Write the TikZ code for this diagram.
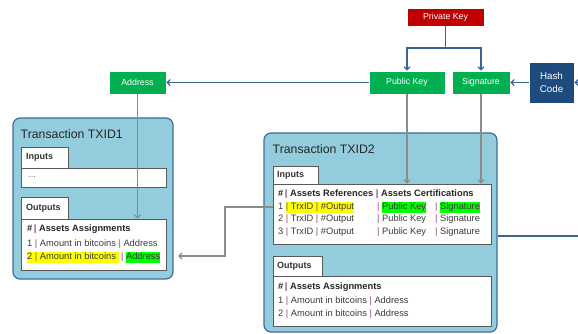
\documentclass[tikz,border=0pt]{standalone}
\usepackage{fontspec}
\setmainfont{Liberation Sans}
\usetikzlibrary{arrows.meta,calc}
\definecolor{pkred}{HTML}{C00000}
\definecolor{kgreen}{HTML}{00B050}
\definecolor{hblue}{HTML}{1F4A7D}
\definecolor{panelc}{HTML}{93CDDD}
\definecolor{pborder}{HTML}{3F6D97}
\definecolor{lblue}{HTML}{3C6495}
\definecolor{lgray}{HTML}{8C8C8C}
\definecolor{txtc}{HTML}{3A3A3A}
\definecolor{pipec}{HTML}{8E4F70}
\definecolor{hlyel}{HTML}{FFFF00}
\definecolor{hlgrn}{HTML}{00FF00}
\definecolor{boxb}{HTML}{595959}
\newcommand{\pp}{\textcolor{pipec}{|}}
\newcommand{\hly}[1]{{\setlength{\fboxsep}{0pt}\colorbox{hlyel}{\strut #1}}}
\newcommand{\hlg}[1]{{\setlength{\fboxsep}{0pt}\colorbox{hlgrn}{\strut #1}}}
\begin{document}
\begin{tikzpicture}[x=1pt,y=-1pt,
  keybox/.style={draw=white, line width=0.6pt, text=white, font=\fontsize{8.8}{10}\selectfont, inner sep=0pt, align=center},
  panelbox/.style={draw=pborder, line width=1.2pt, fill=panelc, rounded corners=7pt, inner sep=0pt},
  whitebox/.style={draw=boxb, line width=0.8pt, fill=white, inner sep=0pt},
  tabrect/.style={draw=boxb, line width=0.8pt, fill=white},
  tabbox/.style={inner sep=0pt, font=\bfseries\fontsize{9}{10}\selectfont, text=black!80},
  rowtxt/.style={anchor=west, inner sep=0pt, text=txtc, font=\fontsize{9.3}{11}\selectfont},
  hdrtxt/.style={anchor=west, inner sep=0pt, text=black!85, font=\bfseries\fontsize{9.3}{11}\selectfont},
  titletxt/.style={anchor=west, inner sep=0pt, text=black!85, font=\fontsize{12.3}{14}\selectfont},
  bluearrow/.style={draw=lblue, line width=1.3pt, -{Straight Barb[length=3pt,width=6pt]}},
  blueline/.style={draw=lblue, line width=1.3pt},
  grayarrow/.style={draw=lgray, line width=1.3pt, -{Straight Barb[length=3pt,width=6pt]}},
  grayline/.style={draw=lgray, line width=1.3pt}
]
\useasboundingbox (0,0) rectangle (578,334);

% key boxes
\node[keybox, fill=pkred, minimum width=77pt, minimum height=18pt] (priv) at (445.5,17) {Private Key};
\node[keybox, fill=kgreen, minimum width=76pt, minimum height=23pt] (pub) at (407,82.5) {Public Key};
\node[keybox, fill=kgreen, minimum width=58pt, minimum height=23pt] (sig) at (481,82.5) {Signature};
\node[keybox, fill=hblue, minimum width=45pt, minimum height=41pt, font=\fontsize{9.8}{11}\selectfont] (hash) at (551.5,82.5) {Hash\\[2pt]Code};
\node[keybox, fill=kgreen, minimum width=57pt, minimum height=23pt] (addr) at (137.5,82.5) {Address};

% panels
\node[panelbox, minimum width=160pt, minimum height=161pt] (tx1) at (93,198.5) {};
\node[panelbox, minimum width=233pt, minimum height=199pt] (tx2) at (380.5,232.5) {};
\node[titletxt] (t1) at (20.5,134) {Transaction TXID1};
\node[titletxt] (t2) at (272.5,149) {Transaction TXID2};

% TXID1 inputs
\draw[tabrect] (21,147) rectangle (68,168);
\node[tabbox, anchor=west] (in1tab) at (26,157.5) {Inputs};
\node[whitebox, minimum width=145pt, minimum height=19pt] (in1) at (93.5,177.5) {};
\node[rowtxt, text=black!55] (dots) at (28,177) {...};

% TXID1 outputs
\draw[tabrect] (21,197) rectangle (68,219);
\node[tabbox, anchor=west] (out1tab) at (26,208) {Outputs};
\node[whitebox, minimum width=145pt, minimum height=51pt] (out1) at (93.5,244.5) {};
\node[hdrtxt] (h1) at (27,229) {\#\,\pp\ Assets Assignments};
\node[rowtxt] (r11) at (27,244) {1 \pp\ Amount in bitcoins \pp\ Address};
\node[rowtxt] (r12) at (27,257.5) {\hly{2 \pp\ Amount in bitcoins }\ \pp\ \hlg{Address}};

% TXID2 inputs
\draw[tabrect] (273,166) rectangle (318,184);
\node[tabbox, anchor=west] (in2tab) at (277,175) {Inputs};
\node[whitebox, minimum width=218pt, minimum height=60pt] (in2) at (382,214) {};
\node[hdrtxt] (h2) at (278,194) {\#\,\pp\ Assets References \pp\ Assets Certifications};
\node[rowtxt] (r21) at (278,207) {1 \hly{\pp\ TrxID \pp\ \#Output}};
\node[rowtxt] (r22) at (278,219.5) {2 \pp\ TrxID \pp\ \#Output};
\node[rowtxt] (r23) at (278,232) {3 \pp\ TrxID \pp\ \#Output};
\node[rowtxt] (c21) at (377,207) {\pp\ \hlg{Public Key}};
\node[rowtxt] (c22) at (377,219.5) {\pp\ Public Key};
\node[rowtxt] (c23) at (377,232) {\pp\ Public Key};
\node[rowtxt] (d21) at (435,207) {\pp\ \hlg{Signature}};
\node[rowtxt] (d22) at (435,219.5) {\pp\ Signature};
\node[rowtxt] (d23) at (435,232) {\pp\ Signature};

% TXID2 outputs
\draw[tabrect] (273,256) rectangle (322,276);
\node[tabbox, anchor=west] (out2tab) at (277,266) {Outputs};
\node[whitebox, minimum width=218pt, minimum height=50pt] (out2) at (382,301) {};
\node[hdrtxt] (h3) at (278,287) {\#\,\pp\ Assets Assignments};
\node[rowtxt] (r31) at (278,301) {1 \pp\ Amount in bitcoins \pp\ Address};
\node[rowtxt] (r32) at (278,314) {2 \pp\ Amount in bitcoins \pp\ Address};

% connectors
\coordinate (split) at (445.5,48);
\draw[blueline] (priv.south) -- (split);
\draw[bluearrow] (split) -| (pub.north);
\draw[bluearrow] (split) -| (sig.north);
\draw[bluearrow] (pub.west) -- (addr.east);
\draw[bluearrow] (hash.west) -- (sig.east);
\coordinate (hin) at (582,82.5);
\draw[bluearrow] (hin) -- (hash.east);
\draw[grayarrow] (addr.south) -- (addr.south |- out1.north);
\draw[grayarrow] (pub.south) -- (pub.south |- in2.north);
\draw[grayarrow] (sig.south) -- (sig.south |- in2.north);
\coordinate (bendA) at (225,207);
\coordinate (bendB) at (225,256);
\coordinate (tipA) at (178,256);
\draw[grayarrow] (in2.west |- r21.west) -- (bendA) -- (bendB) -- (tipA);
\coordinate (rightend) at (578,236);
\draw[blueline] (tx2.east |- rightend) -- (rightend);
\end{tikzpicture}
\end{document}
